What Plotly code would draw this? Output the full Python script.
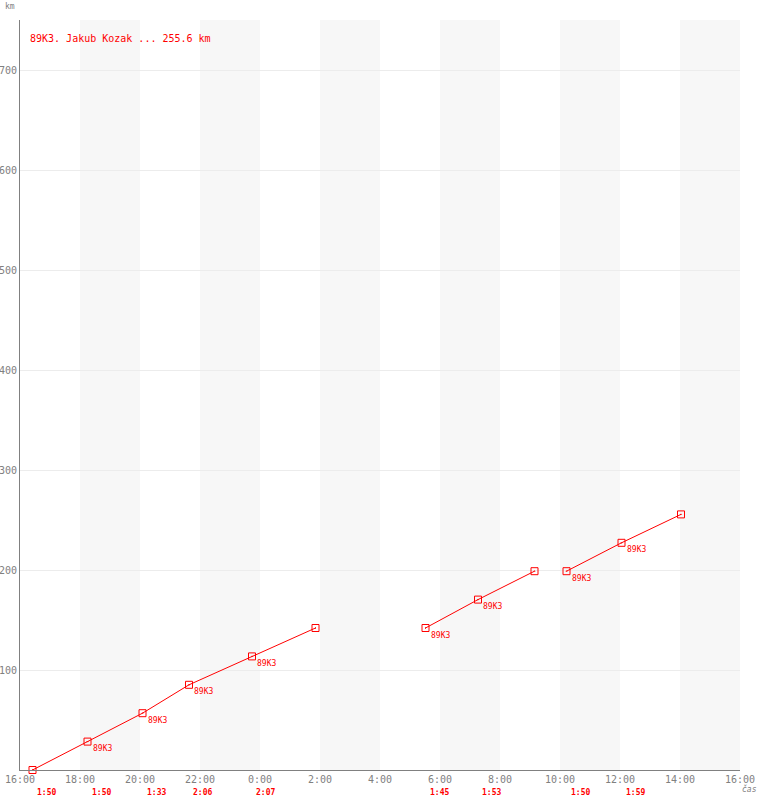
import plotly.graph_objects as go
from datetime import datetime, timedelta

# ---- data ----
title_text = "89K3. Jakub Kozak ... 255.6 km"
series_name = "89K3"
times = ["2023-06-10 16:25", "2023-06-10 18:15", "2023-06-10 20:05", "2023-06-10 21:38",
         "2023-06-10 23:44", "2023-06-11 01:51", None,
         "2023-06-11 05:31", "2023-06-11 07:16", "2023-06-11 09:09", None,
         "2023-06-11 10:13", "2023-06-11 12:03", "2023-06-11 14:02"]
km = [0, 28.4, 56.8, 85.2, 113.6, 142.0, None,
      142.0, 170.4, 198.8, None,
      198.8, 227.2, 255.6]
point_labels = ["", "89K3", "89K3", "89K3", "89K3", "", "",
                "89K3", "89K3", "", "",
                "89K3", "89K3", ""]
lap_start = ["2023-06-10 16:25", "2023-06-10 18:15", "2023-06-10 20:05", "2023-06-10 21:38",
             "2023-06-10 23:44", "2023-06-11 05:31", "2023-06-11 07:16",
             "2023-06-11 10:13", "2023-06-11 12:03"]
lap_time = ["1:50", "1:50", "1:33", "2:06", "2:07", "1:45", "1:53", "1:50", "1:59"]
x_ticks = ["16:00", "18:00", "20:00", "22:00", "0:00", "2:00", "4:00",
           "6:00", "8:00", "10:00", "12:00", "14:00", "16:00"]
y_ticks = [100, 200, 300, 400, 500, 600, 700]

t0 = datetime(2023, 6, 10, 16, 0)
t1 = t0 + timedelta(hours=24)
tick_vals = [t0 + timedelta(hours=2 * i) for i in range(len(x_ticks))]

RED = "#ff0000"
GRAY = "#808080"
FONT = "DejaVu Sans Mono"

# split the series into its connected segments (None marks a gap)
segments = []
cur = ([], [], [])
for t, v, lab in zip(times, km, point_labels):
    if t is None:
        segments.append(cur)
        cur = ([], [], [])
    else:
        cur[0].append(t); cur[1].append(v); cur[2].append(lab)
segments.append(cur)

fig = go.Figure()
for xs, ys, labs in segments:
    fig.add_trace(go.Scatter(
        x=xs, y=ys, mode="lines+markers",
        line=dict(color=RED, width=1),
        marker=dict(symbol="square-open-dot", size=7, color=RED, line=dict(width=1, color=RED)),
        name=series_name, showlegend=False, cliponaxis=False,
    ))

shapes = []
for i in range(6):
    a = t0 + timedelta(hours=2 + 4 * i)
    shapes.append(dict(type="rect", xref="x", yref="paper", x0=a, x1=a + timedelta(hours=2),
                       y0=0, y1=1, fillcolor="#f7f7f7", line=dict(width=0), layer="below"))

annotations = [
    dict(text=title_text, xref="paper", yref="paper", x=0, y=1, xshift=8, yshift=-18,
         xanchor="left", yanchor="middle", showarrow=False,
         font=dict(family=FONT, size=10, color=RED)),
    dict(text="km", xref="paper", yref="paper", x=0, y=1, xshift=-10, yshift=14,
         xanchor="center", yanchor="middle", showarrow=False,
         font=dict(family=FONT, size=8, color=GRAY)),
    dict(text="<i>čas</i>", xref="paper", yref="paper", x=1, y=0, xshift=9, yshift=-19,
         xanchor="center", yanchor="middle", showarrow=False,
         font=dict(family=FONT, size=8, color=GRAY)),
]
for xs, ys, labs in segments:
    for x, y, lab in zip(xs, ys, labs):
        if lab:
            annotations.append(dict(text=lab, xref="x", yref="y", x=x, y=y,
                                    xshift=3, yshift=-7, xanchor="left", yanchor="middle",
                                    showarrow=False, font=dict(family=FONT, size=8, color=RED)))
for s, t in zip(lap_start, lap_time):
    annotations.append(dict(text="<b>" + t + "</b>", xref="x", yref="paper", x=s, y=0,
                            xshift=2, yshift=-22, xanchor="left", yanchor="middle",
                            showarrow=False, font=dict(family=FONT, size=8, color=RED)))

fig.update_layout(
    width=760, height=800, margin=dict(l=20, r=20, t=20, b=30),
    paper_bgcolor="white", plot_bgcolor="white",
    shapes=shapes, annotations=annotations, hovermode=False,
    font=dict(family=FONT, size=10, color=GRAY),
    xaxis=dict(type="date", range=[t0, t1], tickvals=tick_vals, ticktext=x_ticks,
               automargin=False,
               showgrid=False, zeroline=False, showline=True, linecolor=GRAY, linewidth=1,
               ticks="", tickfont=dict(family=FONT, size=10, color=GRAY)),
    yaxis=dict(range=[0, 750], tickvals=y_ticks, showgrid=True, gridcolor="#ececec",
               automargin=False,
               gridwidth=1, zeroline=False, showline=True, linecolor=GRAY, linewidth=1,
               ticks="", ticklabelstandoff=0, tickfont=dict(family=FONT, size=10, color=GRAY)),
)

# remove the browser's default 8px body margin so the figure sits at the page's corner
fig.write_html("out.html", config={"displayModeBar": False},
               post_script="document.body.style.margin='0px';")
